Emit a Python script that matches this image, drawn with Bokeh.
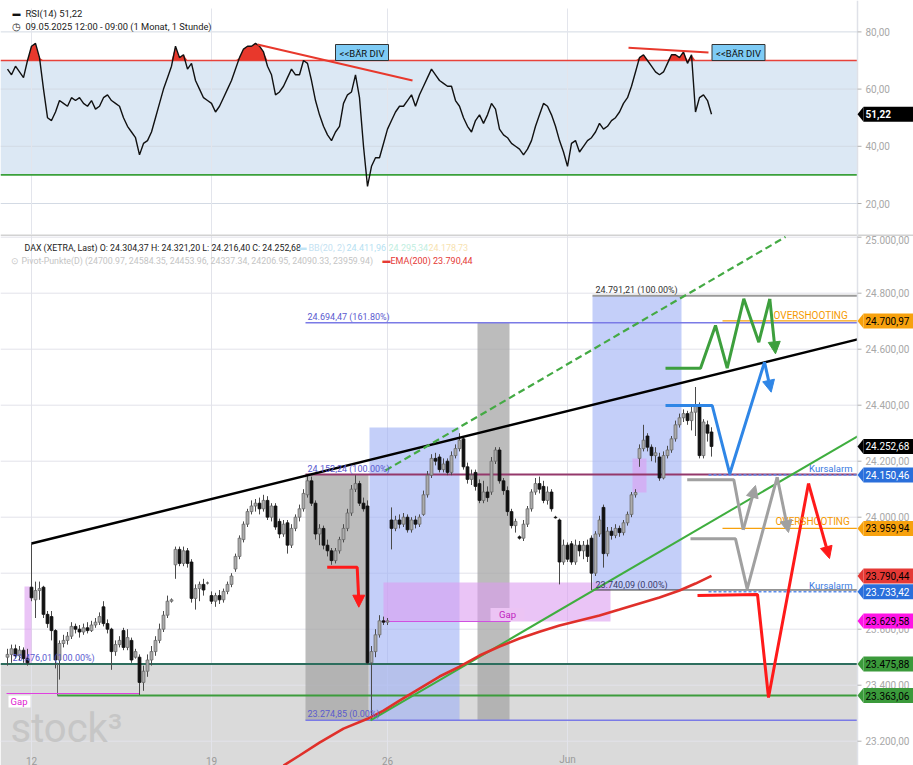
import numpy as np
from bokeh.plotting import figure
from bokeh.models import Range1d, Arrow, NormalHead
from bokeh.layouts import column
from bokeh.embed import file_html
from bokeh.resources import INLINE
from bokeh.core.properties import value

FONT = "Roboto"

# ---------------- data ----------------
rsi = [67, 65, 68, 66, 64, 70, 75, 76, 71, 60, 50, 49, 52, 56, 55, 54, 57, 56, 57, 55,
       54, 56, 53, 54, 57, 58, 56, 55, 54, 50, 47, 45, 43, 37, 41, 42, 45, 50, 55, 60,
       64, 68, 75, 71, 72, 67, 69, 63, 60, 57, 56, 55, 52, 54, 57, 60, 63, 67, 71, 74,
       75, 75, 76, 75, 73, 68, 65, 58, 59, 61, 64, 67, 65, 65, 70, 69, 63, 56, 51, 47,
       44, 42, 45, 47, 55, 58, 59, 65, 57, 40, 26, 33, 36, 36, 41, 46, 49, 52, 54, 54,
       56, 58, 54, 58, 61, 64, 67, 65, 63, 62, 61, 61, 56, 54, 50, 47, 45, 49, 51, 48,
       51, 55, 53, 46, 44, 43, 41, 40, 39, 37, 39, 42, 47, 51, 55, 54, 51, 47, 42, 38,
       33, 41, 42, 38, 40, 42, 43, 45, 48, 46, 47, 49, 50, 52, 55, 57, 61, 66, 71, 72,
       70, 68, 66, 65, 66, 69, 72, 72, 71, 73, 69, 72, 52, 57, 58, 56, 51.22]

opens = [23500, 23510, 23530, 23505, 23525, 23495, 23750, 23705, 23738, 23750,
         23653, 23645, 23595, 23490, 23549, 23560, 23575, 23610, 23600, 23590,
         23605, 23595, 23615, 23625, 23680, 23620, 23600, 23520, 23545, 23595,
         23535, 23560, 23500, 23500, 23410, 23450, 23490, 23520, 23560, 23600,
         23650, 23700, 23830, 23885, 23835, 23880, 23840, 23710, 23745, 23760,
         23765, 23720, 23700, 23720, 23705, 23735, 23760, 23815, 23860, 23920,
         23975, 24020, 24040, 24050, 24030, 24060, 24000, 24040, 23985, 23940,
         23980, 23900, 23960, 24000, 24030, 24080, 24130, 24050, 23940, 23960,
         23900, 23880, 23845, 23880, 23920, 23960, 24015, 24100, 24120, 24050,
         24040, 23480, 23520, 23580, 23630, 23625, 23990, 23960, 23990, 23975,
         24000, 23955, 23990, 23975, 24010, 24080, 24150, 24210, 24215, 24170,
         24200, 24160, 24220, 24245, 24280, 24180, 24135, 24160, 24120, 24060,
         24090, 24090, 24200, 24240, 24130, 24095, 24020, 23970, 23930, 23925,
         23975, 24030, 24090, 24120, 24110, 24060, 24090, 24000, 23990, 23840,
         23900, 23905, 23840, 23900, 23880, 23900, 23925, 23800, 23940, 24035,
         23870, 23950, 23935, 23960, 23945, 23980, 24010, 24080, 24210, 24245,
         24290, 24250, 24220, 24215, 24140, 24220, 24240, 24280, 24330, 24355,
         24370, 24345, 24375, 24400, 24220, 24330, 24304.37]
highs = [23530, 23545, 23545, 23540, 23535, 23530, 23906, 23770, 23770, 23755,
         23665, 23665, 23600, 23560, 23580, 23590, 23625, 23620, 23615, 23620,
         23625, 23630, 23640, 23660, 23700, 23635, 23605, 23560, 23575, 23605,
         23600, 23570, 23530, 23510, 23470, 23510, 23540, 23575, 23620, 23665,
         23720, 23710, 23895, 23895, 23895, 23890, 23850, 23760, 23770, 23780,
         23770, 23735, 23730, 23740, 23745, 23770, 23800, 23870, 23935, 23985,
         24030, 24060, 24065, 24070, 24080, 24075, 24050, 24050, 23995, 23990,
         23990, 23975, 24010, 24045, 24100, 24150, 24145, 24060, 23975, 23970,
         23920, 23890, 23890, 23930, 23975, 24030, 24115, 24150, 24130, 24070,
         24060, 23540, 23600, 23650, 23645, 23640, 24035, 24005, 24010, 24015,
         24010, 24000, 24005, 24010, 24095, 24165, 24225, 24230, 24225, 24210,
         24210, 24235, 24260, 24300, 24290, 24195, 24170, 24170, 24135, 24130,
         24110, 24215, 24250, 24250, 24140, 24110, 24030, 23995, 23935, 23990,
         24040, 24100, 24140, 24145, 24130, 24110, 24100, 24005, 23995, 23920,
         23910, 23915, 23920, 23915, 23915, 23920, 23935, 23950, 24005, 24045,
         23965, 23965, 23975, 23970, 23990, 24020, 24090, 24100, 24260, 24330,
         24300, 24260, 24250, 24230, 24235, 24255, 24290, 24345, 24370, 24385,
         24380, 24400, 24465, 24410, 24350, 24345, 24321.20]
lows = [23470, 23480, 23495, 23490, 23480, 23470, 23700, 23640, 23705, 23640,
        23605, 23560, 23460, 23420, 23535, 23545, 23565, 23585, 23570, 23580,
        23585, 23590, 23605, 23615, 23610, 23585, 23455, 23505, 23535, 23525,
        23525, 23480, 23495, 23365, 23380, 23430, 23470, 23505, 23550, 23590,
        23640, 23695, 23780, 23825, 23825, 23820, 23695, 23670, 23700, 23720,
        23760, 23690, 23680, 23690, 23695, 23725, 23750, 23805, 23850, 23910,
        23965, 24010, 24020, 24010, 24020, 23990, 23985, 23955, 23925, 23930,
        23870, 23890, 23950, 23985, 24020, 24070, 24040, 23920, 23900, 23885,
        23860, 23830, 23835, 23870, 23910, 23950, 24005, 24090, 24040, 24020,
        23475, 23275, 23500, 23570, 23615, 23615, 23885, 23950, 23960, 23965,
        23945, 23945, 23960, 23965, 24005, 24070, 24140, 24185, 24160, 24160,
        24150, 24150, 24210, 24235, 24170, 24120, 24115, 24095, 24050, 24050,
        24055, 24080, 24190, 24120, 24080, 24005, 23960, 23945, 23920, 23915,
        23965, 24020, 24080, 24085, 24050, 24045, 24020, 23995, 23760, 23830,
        23840, 23830, 23830, 23860, 23850, 23840, 23740, 23790, 23930, 23820,
        23860, 23920, 23925, 23930, 23935, 23970, 24000, 24070, 24180, 24235,
        24235, 24200, 24195, 24130, 24135, 24210, 24230, 24270, 24320, 24340,
        24330, 24310, 24290, 24210, 24210, 24270, 24216.40]
closes = [23510, 23530, 23505, 23525, 23495, 23480, 23712, 23738, 23745, 23653,
          23620, 23595, 23490, 23549, 23560, 23575, 23610, 23600, 23590, 23605,
          23595, 23615, 23625, 23645, 23620, 23600, 23520, 23545, 23560, 23535,
          23570, 23490, 23520, 23410, 23450, 23490, 23520, 23560, 23600, 23650,
          23700, 23705, 23885, 23835, 23880, 23835, 23710, 23745, 23760, 23740,
          23765, 23700, 23720, 23705, 23735, 23760, 23790, 23860, 23925, 23975,
          24020, 24040, 24050, 24030, 24060, 24000, 24040, 23965, 23940, 23975,
          23900, 23960, 24000, 24030, 24085, 24130, 24050, 23940, 23960, 23900,
          23880, 23845, 23880, 23920, 23960, 24015, 24100, 24120, 24050, 24030,
          23480, 23520, 23580, 23630, 23625, 23630, 23960, 23990, 23975, 24000,
          23955, 23990, 23975, 24000, 24080, 24150, 24210, 24200, 24170, 24190,
          24160, 24220, 24245, 24275, 24180, 24135, 24150, 24110, 24060, 24090,
          24070, 24200, 24240, 24130, 24095, 24020, 23970, 23985, 23925, 23975,
          24030, 24090, 24120, 24100, 24060, 24090, 24030, 23998, 23840, 23900,
          23850, 23840, 23900, 23880, 23900, 23860, 23800, 23940, 23990, 23870,
          23950, 23935, 23960, 23945, 23980, 24010, 24080, 24088, 24245, 24275,
          24250, 24220, 24230, 24140, 24220, 24240, 24280, 24330, 24355, 24370,
          24345, 24375, 24400, 24220, 24340, 24300, 24252.68]

ema_x = [69, 73, 78, 84, 90, 94, 98, 103, 108, 113, 118, 123, 128, 133, 138, 143,
         148, 153, 158, 163, 168, 172, 176]
ema_y = [23113, 23149, 23195, 23245, 23280, 23309, 23345, 23388, 23431, 23466, 23506,
         23538, 23567, 23591, 23613, 23631, 23649, 23670, 23692, 23713, 23738, 23763,
         23790.44]

date_ticks = [6, 51, 95, 140]
date_labels = ["12", "19", "26", "Jun"]
price_ticks = [23200, 23400, 23600, 23800, 24000, 24200, 24400, 24600, 24800, 25000]
price_labels = ["23.200,00", "23.400,00", "23.600,00", "23.800,00", "24.000,00",
                "24.200,00", "24.400,00", "24.600,00", "24.800,00", "25.000,00"]
rsi_ticks = [20, 40, 60, 80]
rsi_labels = ["20,00", "40,00", "60,00", "80,00"]

tag_vals = [24700.97, 24252.68, 24150.46, 23959.94, 23790.44, 23733.42, 23629.58,
            23475.88, 23363.06]
tag_text = ["24.700,97", "24.252,68", "24.150,46", "23.959,94", "23.790,44",
            "23.733,42", "23.629,58", "23.475,88", "23.363,06"]
tag_bg = ["#f7a10d", "#000000", "#2a6fdb", "#f7a10d", "#e53935", "#2a6fdb",
          "#ff14e6", "#3b9a3b", "#3b9a3b"]
tag_fg = ["#000000", "#ffffff", "#ffffff", "#000000", "#000000", "#ffffff",
          "#000000", "#000000", "#000000"]

# fib / drawing levels
fib_low, fib_high, fib_ext = 23274.85, 24152.24, 24694.47
fib2_high, fib2_low = 24791.21, 23740.09
supp1, supp2 = 23475.88, 23363.06
alarm1, alarm2 = 24150.46, 23733.42
over1, over2 = 24700.97, 23959.94

# ---------------- geometry helpers (page pixel -> data) ----------------
W, H_RSI, H_MAIN = 913, 234, 531


def X(px):
    return (px - 7) / 4.0


def YP(py):
    return 24000 + (516.7 - py) / 0.28


def YR(py):
    return 60 - (py - 88.6) / 2.86


AX = X(857)
xr = Range1d(X(0), X(913))


def txt(p, xpx, y, s, color, size=9, align="left", baseline="middle", style="normal",
        alpha=1.0):
    p.text(x=[X(xpx)], y=[y], text=[s], text_color=color, text_font=value(FONT),
           text_font_size=f"{size}px", text_align=align, text_baseline=baseline,
           text_font_style=style, text_alpha=alpha)


def mkfig(h, yr):
    p = figure(width=W, height=h, x_range=xr, y_range=yr, output_backend="svg",
               toolbar_location=None, x_axis_location=None, y_axis_location=None,
               min_border=0, outline_line_color=None)
    p.grid.visible = False
    p.background_fill_color = "white"
    p.border_fill_color = "white"
    return p


# ---------------- RSI panel ----------------
pr = mkfig(H_RSI, Range1d(YR(234), YR(0)))
ri = np.arange(len(rsi))
ra = np.array(rsi, dtype=float)
pr.quad(left=X(0), right=AX, bottom=30, top=70, fill_color="#dce8f4", line_color=None)
pr.segment(x0=X(0), x1=AX, y0=rsi_ticks, y1=rsi_ticks, line_color="#d3dae4", line_width=1)
pr.segment(x0=date_ticks, x1=date_ticks, y0=YR(234), y1=YR(8), line_color="#e3e5ec",
           line_width=1)
pr.segment(x0=X(0), x1=AX, y0=70, y1=70, line_color="#e8423a", line_width=1.6)
pr.segment(x0=X(0), x1=AX, y0=30, y1=30, line_color="#3aa03a", line_width=1.6)
pr.varea(x=ri, y1=70, y2=np.maximum(ra, 70), fill_color="#e8382c")
pr.line(ri, ra, line_color="#111111", line_width=1.4)
# divergence lines
pr.line([62.5, 101.25], [75.6, 63.0], line_color="#e8382c", line_width=2)
pr.line([155.25, 175.25], [74.5, 72.8], line_color="#e8382c", line_width=2)
for bx in (361.5, 738):
    pr.rect(x=[X(bx)], y=[YR(52)], width=53, height=16, width_units="screen",
            height_units="screen", fill_color="#7ecbf5", line_color="#333333",
            line_width=1)
    txt(pr, bx, YR(52.5), "<<BÄR DIV", "#111111", 9.5, align="center")
# axis
pr.segment(x0=AX, x1=AX, y0=YR(234), y1=YR(0), line_color="#dfe1e8", line_width=1.5)
pr.segment(x0=AX, x1=X(861), y0=rsi_ticks, y1=rsi_ticks, line_color="#b0b0b0")
for t, lab in zip(rsi_ticks, rsi_labels):
    txt(pr, 865, t, lab, "#a8a8a8", 10)
# tag 51,22
dv = 7.5 / 2.86
pr.patch([X(857), X(863), X(863)], [ra[-1], ra[-1] + dv, ra[-1] - dv],
         fill_color="#000000", line_color=None)
pr.rect(x=[X(888)], y=[ra[-1]], width=50, height=15, width_units="screen",
        height_units="screen", fill_color="#000000", line_color=None)
txt(pr, 865, ra[-1], "51,22", "#ffffff", 10, style="bold")
# header
txt(pr, 12, YR(13), "▬", "#111111", 8)
txt(pr, 25, YR(13), "RSI(14)  51,22", "#222222", 9.5)
txt(pr, 11, YR(26), "◷", "#222222", 10)
txt(pr, 25, YR(26), "09.05.2025 12:00 - 09:00   (1 Monat, 1 Stunde)", "#222222", 9.3)

# ---------------- main panel ----------------
pm = mkfig(H_MAIN, Range1d(YP(765), YP(234)))
# support zone
pm.quad(left=X(0), right=AX, bottom=YP(800), top=supp1, fill_color="#dadada",
        line_color=None)
# grid
pm.segment(x0=X(0), x1=AX, y0=price_ticks, y1=price_ticks, line_color="#e2e3ea",
           line_width=1)
pm.segment(x0=date_ticks, x1=date_ticks, y0=YP(800), y1=YP(234), line_color="#e2e3ea",
           line_width=1)
pm.segment(x0=X(0), x1=X(913), y0=YP(234.5), y1=YP(234.5), line_color="#d2d2d2",
           line_width=2)
# fib boxes
pm.quad(left=[X(305), X(477)], right=[X(368), X(509)], bottom=[fib_low, fib_low],
        top=[fib_high, fib_ext], fill_color="#a6a6a6", fill_alpha=0.75, line_color=None)
pm.quad(left=[X(369), X(592)], right=[X(459), X(681)], bottom=[fib_low, fib2_low],
        top=[YP(427), fib2_high], fill_color="#9fb1f5", fill_alpha=0.62, line_color=None)
# gap boxes
pm.quad(left=[X(24), X(383), X(632)], right=[X(31), X(610), X(646)],
        bottom=[YP(663), YP(621), YP(492)], top=[YP(586), YP(582), YP(458)],
        fill_color="#dc9cf0", fill_alpha=0.6, line_color=None)
# level lines
pm.segment(x0=X(305), x1=AX, y0=fib_high, y1=fib_high, line_color="#94386b", line_width=2)
pm.segment(x0=X(305), x1=AX, y0=fib_ext, y1=fib_ext, line_color="#7a7ae6", line_width=1.3)
pm.segment(x0=X(305), x1=AX, y0=fib_low, y1=fib_low, line_color="#7a7ae6", line_width=1.3)
pm.segment(x0=X(592), x1=AX, y0=fib2_high, y1=fib2_high, line_color="#9a9a9a", line_width=2)
pm.segment(x0=X(592), x1=AX, y0=fib2_low, y1=fib2_low, line_color="#333333", line_width=1)
pm.segment(x0=X(0), x1=AX, y0=supp1, y1=supp1, line_color="#2d6e5e", line_width=2)
pm.segment(x0=X(57), x1=AX, y0=supp2, y1=supp2, line_color="#3c9c3c", line_width=2)
pm.segment(x0=X(57), x1=X(57), y0=supp2, y1=supp1, line_color="#666666", line_width=1)
pm.segment(x0=X(6), x1=X(139), y0=YP(693), y1=YP(693), line_color="#e040e0", line_width=1)
pm.segment(x0=X(383), x1=X(510), y0=YP(621), y1=YP(621), line_color="#d050e0", line_width=1.2)
pm.segment(x0=X(708), x1=AX, y0=[alarm1, alarm2], y1=[alarm1, alarm2],
           line_color="#5b8def", line_width=1.5, line_dash="3 2")
pm.segment(x0=X(722), x1=AX, y0=[over1, over2], y1=[over1, over2],
           line_color="#f7a10d", line_width=1.3)

# candles
ci = np.arange(len(closes))
o, h, l, c = (np.array(a, dtype=float) for a in (opens, highs, lows, closes))
up = c >= o
pm.segment(x0=ci, x1=ci, y0=l, y1=h, line_color="#4a4a4a", line_width=1)
pm.vbar(x=ci[up], width=0.72, bottom=o[up], top=c[up], fill_color="#ababab",
        line_color="#6a6a6a", line_width=0.8)
pm.vbar(x=ci[~up], width=0.72, bottom=c[~up], top=o[~up], fill_color="#111111",
        line_color="#111111", line_width=0.8)

# trend lines
pm.line([6, AX], [23906, 24635], line_color="#000000", line_width=2.5)
pm.line([94.5, 194.5], [24167, 25001], line_color="#44aa44", line_width=2.2,
        line_dash="7 4")
pm.line([90.75, AX], [23274, 24289], line_color="#3fae3f", line_width=2)
pm.line(ema_x, ema_y, line_color="#e0302a", line_width=2.6)

# scenario drawings
scen = [
    ("#3d9f3d", [665, 700, 715, 726.7, 743.3, 758.3, 769.3, 775],
     [367.7, 367.7, 325, 367.7, 298.3, 341.7, 298.3, 353.3]),
    ("#2f86e6", [665, 711.7, 729.3, 764, 770.7], [405, 405, 473.3, 361.7, 391.7]),
    ("#a0a0a0", [686.7, 733.3, 742.7, 755], [479.3, 479.3, 529.3, 485]),
    ("#a0a0a0", [690, 735, 746.7, 776.7, 788], [538.3, 538.3, 588.3, 476.7, 532]),
    ("#ff1a1a", [697, 757, 768, 808, 829], [595, 594, 697, 483, 558]),
    ("#ff1a1a", [326.7, 356.7, 358.3, 358.3], [566.7, 566.7, 600, 606.7]),
]
for col, xs, ys in scen:
    dx = [X(v) for v in xs]
    dy = [YP(v) for v in ys]
    pm.line(dx[:-1], dy[:-1], line_color=col, line_width=3)
    pm.add_layout(Arrow(end=NormalHead(size=12, fill_color=col, line_color=col),
                        x_start=dx[-2], y_start=dy[-2], x_end=dx[-1], y_end=dy[-1],
                        line_color=col, line_width=3))

# labels in plot
txt(pm, 10, YP(728), "stock³", "#c6c6c6", 40, baseline="alphabetic")
txt(pm, 12, YP(657), "23.476,01 (100.00%)", "#5a5acf", 9)
txt(pm, 307, YP(468), "24.152,24 (100.00%)", "#5a5acf", 9)
txt(pm, 307, YP(316), "24.694,47 (161.80%)", "#5a5acf", 9)
txt(pm, 595, YP(289), "24.791,21 (100.00%)", "#333333", 9)
txt(pm, 595, YP(584), "23.740,09 (0.00%)", "#3a3a6a", 9)
txt(pm, 307, YP(713), "23.274,85 (0.00%)", "#5a5acf", 9)
pm.rect(x=[X(19)], y=[YP(701)], width=22, height=12, width_units="screen",
        height_units="screen", fill_color="#ffffff", line_color=None)
txt(pm, 10, YP(701), "Gap", "#e020d0", 9.5)
pm.rect(x=[X(507)], y=[YP(614)], width=34, height=13, width_units="screen",
        height_units="screen", fill_color="#ecc4f4", line_color=None)
txt(pm, 507, YP(614), "Gap", "#c020c0", 9.5, align="center")
txt(pm, 773, YP(315), "OVERSHOOTING", "#f59a00", 10)
txt(pm, 775, YP(521), "OVERSHOOTING", "#f59a00", 10)
txt(pm, 852, YP(468), "Kursalarm", "#3a7ae0", 9.5, align="right")
txt(pm, 852, YP(585), "Kursalarm", "#3a7ae0", 9.5, align="right")

# header
txt(pm, 24, YP(247), "DAX (XETRA, Last) O: 24.304,37 H: 24.321,20 L: 24.216,40 C: 24.252,68",
    "#222222", 8.8)
txt(pm, 298, YP(247), "▬", "#bfe3f5", 8)
txt(pm, 308, YP(247), "BB(20, 2)", "#c4e2f2", 9)
txt(pm, 346, YP(247), "24.411,96", "#b6dff2", 9)
txt(pm, 388, YP(247), "24.295,34", "#bfeee0", 9)
txt(pm, 428, YP(247), "24.178,73", "#f7e2b0", 9)
txt(pm, 10, YP(260), "⊙", "#c8c8c8", 9)
txt(pm, 21, YP(260), "Pivot-Punkte(D) (24700.97, 24584.35, 24453.96, 24337.34, 24206.95, "
    "24090.33, 23959.94)", "#c4c4c4", 8.8)
txt(pm, 382, YP(260), "▬", "#e53935", 8)
txt(pm, 390, YP(260), "EMA(200) 23.790,44", "#e53935", 9)

# axis
pm.segment(x0=AX, x1=AX, y0=YP(800), y1=YP(234), line_color="#dfe1e8", line_width=1.5)
pm.segment(x0=AX, x1=X(861), y0=price_ticks, y1=price_ticks, line_color="#b0b0b0")
for t, lab in zip(price_ticks, price_labels):
    if t == 25000:
        txt(pm, 865, YP(235), lab, "#a8a8a8", 10, baseline="top")
    else:
        txt(pm, 865, t, lab, "#a8a8a8", 10)
for t, lab in zip(date_ticks, date_labels):
    pm.text(x=[t], y=[YP(764)], text=[lab], text_color="#9a9a9a", text_font=value(FONT),
            text_font_size="10px", text_align="center", text_baseline="bottom")

# value tags
dp = 7.5 / 0.28
for v, s, bg, fg in zip(tag_vals, tag_text, tag_bg, tag_fg):
    pm.patch([X(857), X(863), X(863)], [v, v + dp, v - dp], fill_color=bg, line_color=None)
    pm.rect(x=[X(888)], y=[v], width=50, height=15, width_units="screen",
            height_units="screen", fill_color=bg, line_color=None)
    txt(pm, 865, v, s, fg, 10)

layout = column(pr, pm, spacing=0)
open("out.html", "w").write(file_html(layout, INLINE))
